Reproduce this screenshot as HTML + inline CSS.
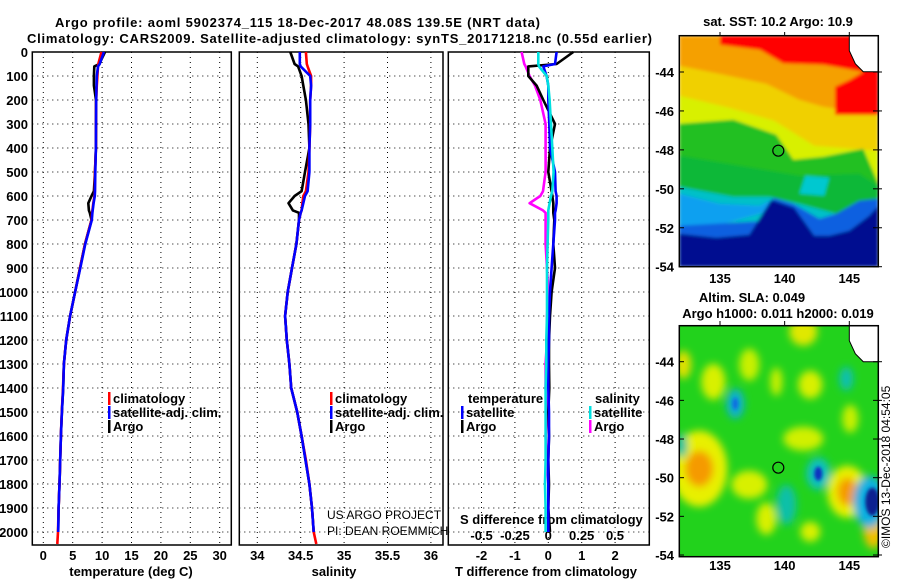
<!DOCTYPE html>
<html><head><meta charset="utf-8"><style>
html,body{margin:0;padding:0;background:#fff;}
svg{display:block;font-family:"Liberation Sans",sans-serif;}
.b{font-weight:bold;font-size:13px;fill:#000;}
</style></head><body>
<svg id="chart" width="900" height="580" viewBox="0 0 900 580" xmlns="http://www.w3.org/2000/svg">
<defs>
<clipPath id="c1"><rect x="0" y="0" width="199" height="231"/></clipPath>
<clipPath id="c2"><rect x="0" y="0" width="199" height="231"/></clipPath>
<filter id="bl" x="-50%" y="-50%" width="200%" height="200%"><feGaussianBlur stdDeviation="4"/></filter>
<filter id="bl2" x="-50%" y="-50%" width="200%" height="200%"><feGaussianBlur stdDeviation="1.5"/></filter>
</defs>
<text class="b" x="55" y="27" font-size="14" textLength="485">Argo profile: aoml 5902374_115 18-Dec-2017 48.08S 139.5E (NRT data)</text>
<text class="b" x="27" y="43" font-size="14" textLength="625">Climatology: CARS2009. Satellite-adjusted climatology: synTS_20171218.nc (0.55d earlier)</text>
<g id="plots"></g>

<!-- SST map -->
<text class="b" x="778" y="26" text-anchor="middle">sat. SST: 10.2 Argo: 10.9</text>
<g transform="translate(679.3,35.7)">
<g clip-path="url(#c1)" filter="url(#bl2)">
<rect x="0" y="0" width="199" height="231" fill="#f5a000"/>
<polygon fill="#f0d000" points="0,30 40,38 87,48 120,64 144,71 199,79 199,199 0,199"/>
<polygon fill="#d8f000" points="0,60 50,72 95,85 135,110 199,115 199,199 0,199"/>
<polygon fill="#ff0000" points="40.7,0 199,0 199,79 155.7,79 155.7,51 170.7,44 184,36 144,29 104,27.7 80.7,14 40.7,9"/>
<polygon fill="#20c020" points="0,88 54,84 97,99 114,124 144,121 184,113 199,148 199,199 0,199"/>
<polygon fill="#10b838" points="0,120 60,130 120,140 180,138 199,150 199,199 0,199"/>
<polygon fill="#00c0c8" points="0,151 54,161 90,161 120,168 157,178 199,163 199,231 0,231"/>
<polygon fill="#10a0f0" points="0,158 40,168 80,170 95,163 110,170 0,200"/>
<polygon fill="#1060e0" points="0,190 90,185 94,162 114,168 140,183 157,178 180,165 199,163 199,231 0,231"/>
<polygon fill="#001090" points="0,198 37,202 70,199 92,164 115,172 135,200 150,200 170,195 190,180 199,170 199,231 0,231"/>
<polygon fill="#00c8d0" points="126,140 150,142 145,160 120,158"/>
</g>
<polygon fill="#fff" stroke="#000" stroke-width="1" points="172,0 199,0 199,36 184,36 176,28 170,15 170,0"/>
<rect x="0" y="0" width="199" height="231" fill="none" stroke="#000" stroke-width="1.5"/>
<circle cx="99" cy="115" r="5.5" fill="none" stroke="#000" stroke-width="1.2"/>
</g>

<!-- SLA map -->
<text class="b" x="752" y="302" text-anchor="middle">Altim. SLA: 0.049</text>
<text class="b" x="778" y="318" text-anchor="middle">Argo h1000: 0.011 h2000: 0.019</text>
<g transform="translate(679.3,325.7)">
<g clip-path="url(#c2)">
<rect x="0" y="0" width="199" height="231" fill="#22d21c"/>
<g filter="url(#bl)">
<ellipse cx="20" cy="143" rx="28" ry="38" fill="#e8f000"/>
<ellipse cx="20" cy="143" rx="14" ry="18" fill="#f59a00"/>
<ellipse cx="168" cy="166" rx="20" ry="26" fill="#e8f000"/>
<ellipse cx="168" cy="166" rx="10" ry="14" fill="#f59a00"/>
<ellipse cx="34" cy="56" rx="12" ry="18" fill="#d8f000"/>
<ellipse cx="70" cy="39" rx="10" ry="16" fill="#c8f000"/>
<ellipse cx="124" cy="6" rx="14" ry="14" fill="#e0e800"/>
<ellipse cx="131" cy="59" rx="12" ry="14" fill="#d8f000"/>
<ellipse cx="124" cy="113" rx="20" ry="12" fill="#d0f000"/>
<ellipse cx="70" cy="159" rx="18" ry="14" fill="#d8f000"/>
<ellipse cx="87" cy="193" rx="10" ry="16" fill="#d8f000"/>
<ellipse cx="131" cy="206" rx="10" ry="10" fill="#d8f000"/>
<ellipse cx="194" cy="203" rx="10" ry="20" fill="#f0c000"/>
<ellipse cx="4" cy="39" rx="8" ry="14" fill="#e0e000"/>
<ellipse cx="171" cy="93" rx="8" ry="14" fill="#c8f000"/>
<ellipse cx="97" cy="56" rx="6" ry="14" fill="#c8f000"/>
<ellipse cx="139" cy="148" rx="12" ry="16" fill="#10c0c0"/>
<ellipse cx="190" cy="176" rx="16" ry="26" fill="#10b0e0"/>
<ellipse cx="56" cy="78" rx="9" ry="15" fill="#10b0d0"/>
<ellipse cx="167" cy="53" rx="7" ry="12" fill="#10c0b0"/>
<ellipse cx="107" cy="179" rx="10" ry="20" fill="#10c0a8"/>
<ellipse cx="2" cy="120" rx="6" ry="12" fill="#10c0a0"/>
</g>
<ellipse cx="139" cy="148" rx="4" ry="7" fill="#1030c0" filter="url(#bl2)"/>
<ellipse cx="193" cy="176" rx="7" ry="14" fill="#102090" filter="url(#bl2)"/>
<ellipse cx="56" cy="78" rx="3" ry="6" fill="#1070e0" filter="url(#bl2)"/>
</g>
<polygon fill="#fff" stroke="#000" stroke-width="1" points="172,0 199,0 199,36 184,36 176,28 170,15 170,0"/>
<rect x="0" y="0" width="199" height="231" fill="none" stroke="#000" stroke-width="1.5"/>
<circle cx="99" cy="142" r="5.5" fill="none" stroke="#000" stroke-width="1.2"/>
</g>
<text transform="translate(890,548) rotate(-90)" font-size="12" fill="#000">©IMOS 13-Dec-2018 04:54:05</text>
<g id="maplabels"></g>

<script>
// ---- data ----
const depthTicks = [0,100,200,300,400,500,600,700,800,900,1000,1100,1200,1300,1400,1500,1600,1700,1800,1900,2000];
const tempTicks = [0,5,10,15,20,25,30];
const salTicks = [34,34.5,35,35.5,36];
const tdiffTicks = [-2,-1,0,1,2];
const sdiffTicks = [-0.5,-0.25,0,0.25,0.5];
const sdiffLabels = ["-0.5","-0.25","0","0.25","0.5"];
const latTicks = [-44,-46,-48,-50,-52,-54];
const lonTicks = [135,140,145];

const depth     = [0,50,60,100,140,200,300,400,500,580,600,630,660,670,700,800,900,1000,1100,1200,1300,1400,1500,1600,1700,1800,1900,2000,2050];
const tempClim  = [9.9,9.35,9.3,9.2,9.1,9.0,8.96,8.95,8.8,8.75,8.7,8.5,8.35,8.3,8.2,7.1,6.25,5.4,4.55,3.9,3.5,3.35,3.15,3.0,2.88,2.75,2.6,2.5,2.38];
const tempSat   = [10.3,9.6,9.3,9.1,9.05,9.0,8.96,8.95,8.85,8.8,8.75,8.55,8.4,8.35,8.25,7.15,6.3,5.4,4.55,3.9,3.5,3.38,3.17,3.0,2.88,2.75,2.6,2.53,null];
const tempArgo  = [10.5,9.5,8.67,8.6,8.6,8.96,8.96,8.95,8.8,8.6,8.2,7.65,7.75,7.9,8.2,7.1,6.25,5.4,4.55,3.9,3.5,3.38,3.17,3.0,2.88,2.75,2.6,2.53,null];
const salClim   = [34.56,34.57,34.58,34.62,34.62,34.61,34.61,34.6,34.59,34.56,34.53,34.52,34.51,34.5,34.48,34.45,34.4,34.35,34.32,34.34,34.37,34.39,34.46,34.51,34.56,34.6,34.63,34.65,34.68];
const salSat    = [34.49,34.49,34.5,34.61,34.62,34.61,34.61,34.6,34.6,34.58,34.55,34.53,34.51,34.5,34.48,34.45,34.4,34.35,34.32,34.34,34.37,34.39,34.46,34.51,34.555,34.6,34.63,34.65,null];
const salArgo   = [34.38,34.43,34.47,34.51,34.53,34.56,34.59,34.6,34.55,34.51,34.43,34.36,34.41,34.48,34.48,34.45,34.4,34.35,34.32,34.34,34.37,34.39,34.46,34.51,34.555,34.6,34.63,34.65,null];
const tdiffSat  = [0.25,0.2,-0.15,-0.05,0,0,0.03,0.05,0.2,0.22,0.25,0.25,0.22,0.2,0.2,0.15,0.1,0.05,0.02,0.02,0.0,0.0,0.02,0.02,0.0,0.0,0.0,0.0,null];
const tdiffArgo = [0.75,0.25,-0.6,-0.6,-0.35,-0.15,0.2,0.05,0.0,0.1,0.12,0.15,0.15,0.15,0.18,0.15,0.2,0.1,0.05,0.02,0.02,0.03,0.0,0.02,0.0,0.02,0.0,0.05,null];
const sdiffSat  = [-0.075,-0.075,-0.07,-0.012,0.0,0.01,0.02,0.03,0.04,0.03,0.02,0.01,0.0,0.0,0.0,-0.005,-0.01,-0.01,-0.01,-0.015,-0.015,-0.02,-0.02,-0.02,-0.02,-0.025,-0.02,-0.02,null];
const sdiffArgo = [-0.2,-0.18,-0.17,-0.14,-0.1,-0.06,-0.02,-0.02,-0.02,-0.04,-0.06,-0.14,-0.04,-0.02,-0.02,-0.02,-0.01,0.0,-0.01,-0.01,-0.02,-0.02,-0.01,-0.02,-0.01,0.0,0.0,0.0,null];

// ---- scales ----
const yD = d => 52 + d*0.24;
const xT = t => 43.3 + t*5.88;
const xS = s => 257.3 + (s-34)*86.8;
const xTd = v => 548.3 + v*33.4;
const xSd = v => 548.3 + v*133.4;
const NS = "http://www.w3.org/2000/svg";
const root = document.getElementById('plots');
function mk(tag, attrs, parent){ const e=document.createElementNS(NS,tag); for(const k in attrs) e.setAttribute(k,attrs[k]); (parent||root).appendChild(e); return e; }
function txt(s, attrs, parent){ const e=mk('text',attrs,parent); e.textContent=s; return e; }

const panels = [
  {x0:32.3,x1:231.3,name:'temperature-panel',ticks:tempTicks,labels:tempTicks.map(String),fx:xT,title:'temperature (deg C)',tx:131},
  {x0:239.3,x1:443,name:'salinity-panel',ticks:salTicks,labels:["34","34.5","35","35.5","36"],fx:xS,title:'salinity',tx:334},
  {x0:448.3,x1:649.3,name:'difference-panel',ticks:tdiffTicks,labels:tdiffTicks.map(String),fx:xTd,title:'T difference from climatology',tx:546},
];
const yTop=52, yBot=545;
panels.forEach((p,i)=>{
  const g = mk('g',{});
  
  
  p.g = g;
  depthTicks.forEach(d=>{ if(d>0){ const l=mk('line',{x1:p.x0,x2:p.x1,y1:yD(d),y2:yD(d),stroke:'#000','stroke-width':1,'stroke-dasharray':'1,4'},g);
    
     }});
  p.ticks.forEach((t,j)=>{
    const x=p.fx(t);
    const l=mk('line',{x1:x,x2:x,y1:yTop,y2:yBot,stroke:'#000','stroke-width':1,'stroke-dasharray':'1,4'},g);
    
    
    const tl=txt(p.labels[j],{x:x,y:560,'text-anchor':'middle',class:'b'},g);
    
    
  });
  const r=mk('rect',{x:p.x0,y:yTop,width:p.x1-p.x0,height:yBot-yTop,fill:'none',stroke:'#000','stroke-width':1.5},g);
  
  
  const at=txt(p.title,{x:p.tx,y:576,'text-anchor':'middle',class:'b'},g);
  
  
});
depthTicks.forEach(d=>{
  const t=txt(String(d),{x:28,y:yD(d)+5,'text-anchor':'end',class:'b'});
  
  
});
// S diff axis
sdiffTicks.forEach((v,j)=>{
  const t=txt(sdiffLabels[j],{x:xSd(v),y:540,'text-anchor':'middle',class:'b'});
  
  
});
const st=txt('S difference from climatology',{x:460,y:524,class:'b'});



function series(vals, fx, color, name){
  let pts=[];
  vals.forEach((v,i)=>{ if(v!==null) pts.push(fx(v).toFixed(1)+','+yD(depth[i]).toFixed(1)); });
  const pl=mk('polyline',{points:pts.join(' '),fill:'none',stroke:color,'stroke-width':2.6,'stroke-linejoin':'round'});
  
  
}
series(tempArgo,xT,'#000','temp-argo-line');
series(tempClim,xT,'#ff0000','temp-climatology-line');
series(tempSat,xT,'#0000ff','temp-satellite-line');
series(salArgo,xS,'#000','salinity-argo-line');
series(salClim,xS,'#ff0000','salinity-climatology-line');
series(salSat,xS,'#0000ff','salinity-satellite-line');
series(sdiffArgo,xSd,'#ff00ff','sdiff-argo-line');
series(tdiffArgo,xTd,'#000','tdiff-argo-line');
series(tdiffSat,xTd,'#0000ff','tdiff-satellite-line');
series(sdiffSat,xSd,'#00e0e0','sdiff-satellite-line');

function legend(x,y,color,label){
  if(color){ const b=mk('rect',{x:x,y:y-11,width:2.5,height:13,fill:color});
    
     }
  const t=txt(label,{x:x+5,y:y,class:'b','font-size':'12.5'});
  
  
}
legend(108,403,'#ff0000','climatology');
legend(108,417,'#0000ff','satellite-adj. clim.');
legend(108,431,'#000','Argo');
legend(330,403,'#ff0000','climatology');
legend(330,417,'#0000ff','satellite-adj. clim.');
legend(330,431,'#000','Argo');
legend(463,403,null,'temperature');
legend(461,417,'#0000ff','satellite');
legend(461,431,'#000','Argo');
legend(590,403,null,'salinity');
legend(589,417,'#00e0e0','satellite');
legend(589,431,'#ff00ff','Argo');
const u1=txt('US ARGO PROJECT',{x:327,y:519,'font-size':'12',fill:'#000'});


const u2=txt('PI: DEAN ROEMMICH',{x:327,y:535,'font-size':'12',fill:'#000'});



// map axes
const ml=document.getElementById('maplabels');
const latY1 = la => 72 + (-44-la)*19.47;
const latY2 = la => 361.7 + (-44-la)*19.33;
const lonX = lo => 720 + (lo-135)*12.93;
latTicks.forEach(la=>{
  [latY1(la),latY2(la)].forEach(y=>{
    const t=txt(String(la),{x:674,y:y+5,'text-anchor':'end',class:'b'},ml);
    
    
    mk('line',{x1:679,x2:684,y1:y,y2:y,stroke:'#000'},ml);
    mk('line',{x1:873,x2:882,y1:y,y2:y,stroke:'#000'},ml);
  });
});
lonTicks.forEach(lo=>{
  [283,570].forEach(y=>{
    const t=txt(String(lo),{x:lonX(lo),y:y,'text-anchor':'middle',class:'b'},ml);
    
    
  });
  mk('line',{x1:lonX(lo),x2:lonX(lo),y1:32,y2:36,stroke:'#000'},ml);
  mk('line',{x1:lonX(lo),x2:lonX(lo),y1:321,y2:326,stroke:'#000'},ml);
});
</script>
</svg>
</body></html>
